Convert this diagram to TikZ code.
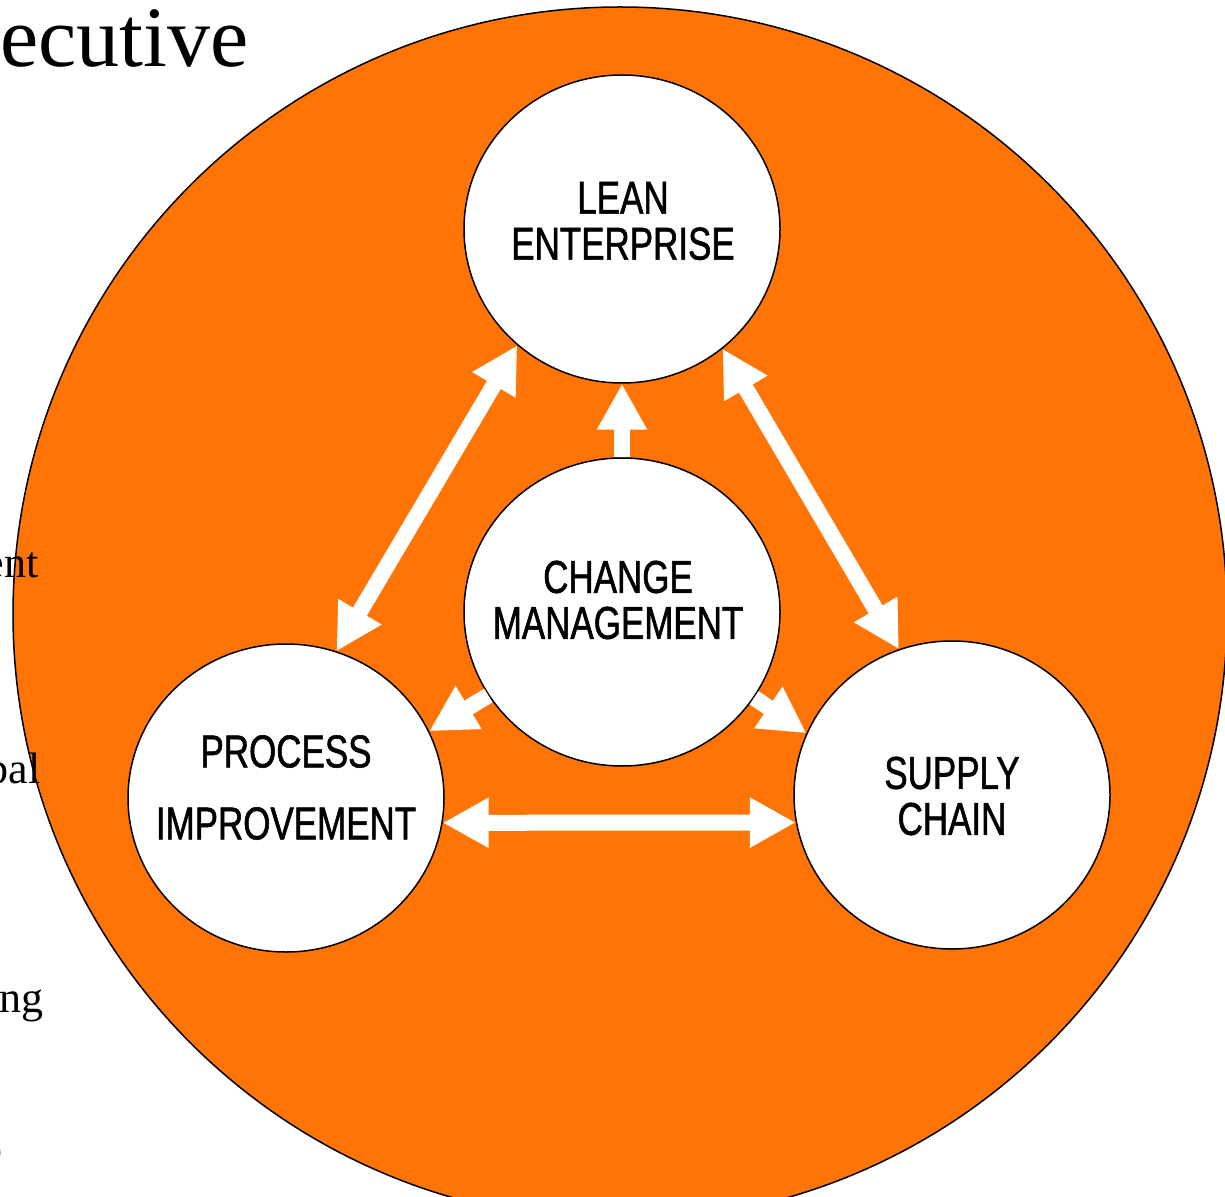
\documentclass[tikz,border=0pt]{standalone}
\usepackage{fontspec}
\setmainfont{Liberation Serif}
\newfontfamily\labelfont[FakeStretch=0.76,FakeBold=1.2]{Liberation Sans}
\usetikzlibrary{shapes.geometric,arrows.meta}
\definecolor{bgorange}{RGB}{255,116,5}
\begin{document}
\begin{tikzpicture}[x=0.5pt,y=-0.5pt,
  bigdisc/.style={circle, draw=black, line width=0.75pt, fill=bgorange, minimum size=607pt, inner sep=0pt},
  bub/.style={ellipse, draw=black, line width=0.75pt, fill=white, minimum width=158pt, minimum height=154pt, inner sep=0pt},
  lbl/.style={font=\labelfont\fontsize{23}{23}\selectfont, align=center, inner sep=0pt},
  frag/.style={font=\fontsize{22}{22}\selectfont, inner sep=0pt, anchor=base east},
  arrone/.style={draw=white, line width=8pt, -{Triangle[width=23.5pt,length=23pt]}},
  arrtwo/.style={draw=white, line width=8pt, {Triangle[width=23.5pt,length=23pt]}-{Triangle[width=23.5pt,length=23pt]}}]
\clip (0,0) rectangle (1225,1197);
% background disc
\node[bigdisc] (big) at (620,614) {};
% text fragments at the left edge
\node[font=\fontsize{43}{43}\selectfont, inner sep=0pt, anchor=base east] (fexec) at (249,67) {ecutive};
\node[frag] (fent) at (39,577) {ent};
\node[frag] (fbal) at (41,783) {bal};
\node[frag] (fng) at (44,1012) {ng};
\node[frag] (fo) at (3,1163) {o};
% bubbles
\node[bub] (lean) at (622,229) {};
\node[bub] (change) at (622,612) {};
\node[bub] (proc) at (286,798) {};
\node[bub] (supply) at (952,795) {};
% labels
\node[lbl] (leanT) at (623,221) {LEAN\\ENTERPRISE};
\node[lbl] (changeT) at (618,600) {CHANGE\\MANAGEMENT};
\node[lbl] (procT) at (286,787.5) {PROCESS\\[13pt]IMPROVEMENT};
\node[lbl] (supplyT) at (952,796) {SUPPLY\\CHAIN};
% arrows
\draw[arrtwo] (lean.228) -- (proc.71);
\draw[arrtwo] (lean.310) -- (supply.110);
\draw[arrone] (change.90) -- (lean.270);
\draw[arrtwo] (proc.351) -- (supply.190);
\draw[arrone] (change.212) -- (proc.25);
\draw[arrone] (change.327) -- (supply.157);
\end{tikzpicture}
\end{document}
